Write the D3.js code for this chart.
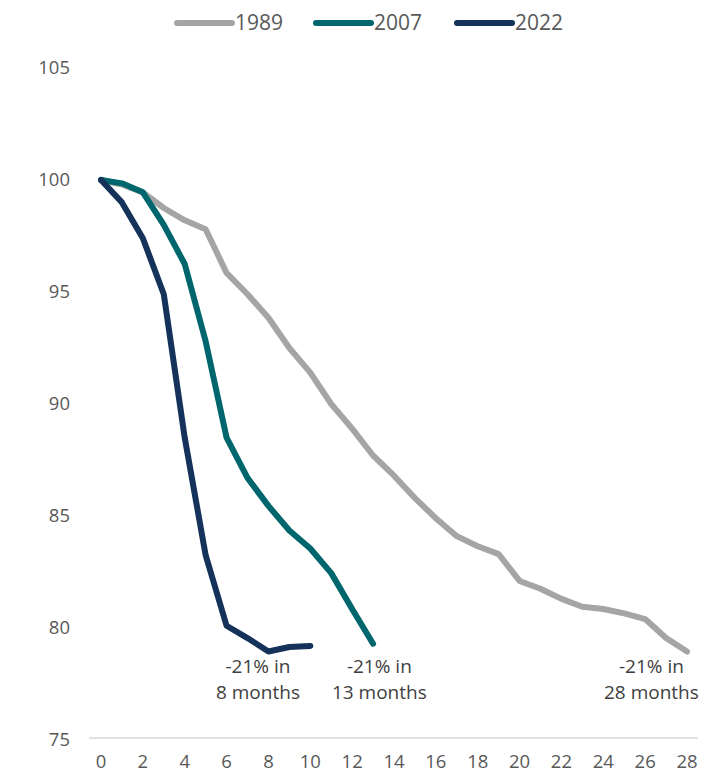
<!DOCTYPE html>
<html>
<head>
<meta charset="utf-8">
<script src="https://cdn.jsdelivr.net/npm/d3@7"></script>
<style>
  html, body { margin: 0; padding: 0; background: #fff; }
  svg text { font-family: "Open Sans", sans-serif; }
</style>
</head>
<body>
<svg id="chart" width="725" height="777"></svg>
<script>
// Index level (start = 100) by months since the peak
const months1989 = d3.range(0, 29);
const values1989 = [100, 99.8, 99.45, 98.75, 98.2, 97.8, 95.85, 94.9, 93.85, 92.5, 91.4, 90.0, 88.9, 87.7,
  86.8, 85.8, 84.9, 84.1, 83.65, 83.3, 82.1, 81.75, 81.3, 80.95, 80.85, 80.65, 80.4, 79.55, 78.95];
const months2007 = d3.range(0, 14);
const values2007 = [100, 99.85, 99.45, 98.0, 96.25, 92.8, 88.5, 86.7, 85.45, 84.35, 83.55, 82.45, 80.85, 79.3];
const months2022 = d3.range(0, 11);
const values2022 = [100, 99.0, 97.4, 94.9, 88.5, 83.25, 80.1, 79.55, 78.95, 79.15, 79.2];

const seriesNames = ["1989", "2007", "2022"];
const seriesColors = ["#a5a5a5", "#00666e", "#15325a"];
const yTicks = [75, 80, 85, 90, 95, 100, 105];
const xTicks = d3.range(0, 29, 2);

// Annotations: text lines placed under each series' final point
const notes = [
  { month: 7.5, lines: ["-21% in", "8 months"] },
  { month: 13.3, lines: ["-21% in", "13 months"] },
  { month: 26.3, lines: ["-21% in", "28 months"] }
];

const svg = d3.select("#chart");
const x = d3.scaleLinear().domain([0, 28]).range([101, 687]);
const y = d3.scaleLinear().domain([75, 105]).range([740, 68]);

const labelColor = "#595959";

// Bottom axis line
svg.append("line")
  .attr("x1", 89).attr("x2", 698)
  .attr("y1", y(75) - 2).attr("y2", y(75) - 2)
  .attr("stroke", "#d9d9d9").attr("stroke-width", 1.5);

// Y tick labels
svg.append("g").selectAll("text").data(yTicks).join("text")
  .attr("x", 70).attr("y", d => y(d))
  .attr("dy", "0.35em")
  .attr("text-anchor", "end")
  .attr("font-size", 18.5)
  .attr("fill", labelColor)
  .text(d => d);

// X tick labels
svg.append("g").selectAll("text").data(xTicks).join("text")
  .attr("x", d => x(d)).attr("y", 762)
  .attr("dy", "0.35em")
  .attr("text-anchor", "middle")
  .attr("font-size", 18.5)
  .attr("fill", labelColor)
  .text(d => d);

// Series lines
const series = [
  { name: seriesNames[0], months: months1989, values: values1989, color: seriesColors[0] },
  { name: seriesNames[1], months: months2007, values: values2007, color: seriesColors[1] },
  { name: seriesNames[2], months: months2022, values: values2022, color: seriesColors[2] }
];

const line = d3.line()
  .x(d => x(d[0]))
  .y(d => y(d[1]));

svg.append("g").selectAll("path").data(series).join("path")
  .attr("d", s => line(s.months.map((m, i) => [m, s.values[i]])))
  .attr("fill", "none")
  .attr("stroke", s => s.color)
  .attr("stroke-width", 6)
  .attr("stroke-linejoin", "round")
  .attr("stroke-linecap", "round");

// Annotation text
const noteG = svg.append("g");
notes.forEach(n => {
  const t = noteG.append("text")
    .attr("x", x(n.month))
    .attr("text-anchor", "middle")
    .attr("font-size", 19)
    .attr("fill", "#404040");
  n.lines.forEach((l, i) => {
    t.append("tspan").attr("x", x(n.month)).attr("y", 673 + i * 26).text(l);
  });
});

// Legend
const legendX = [177, 316, 457];
const legend = svg.append("g");
series.forEach((s, i) => {
  legend.append("line")
    .attr("x1", legendX[i]).attr("x2", legendX[i] + 55)
    .attr("y1", 23).attr("y2", 23)
    .attr("stroke", s.color).attr("stroke-width", 6)
    .attr("stroke-linecap", "round");
  legend.append("text")
    .attr("x", legendX[i] + 58).attr("y", 23)
    .attr("dy", "0.35em")
    .attr("font-size", 21)
    .attr("fill", labelColor)
    .text(s.name);
});
</script>
</body>
</html>
